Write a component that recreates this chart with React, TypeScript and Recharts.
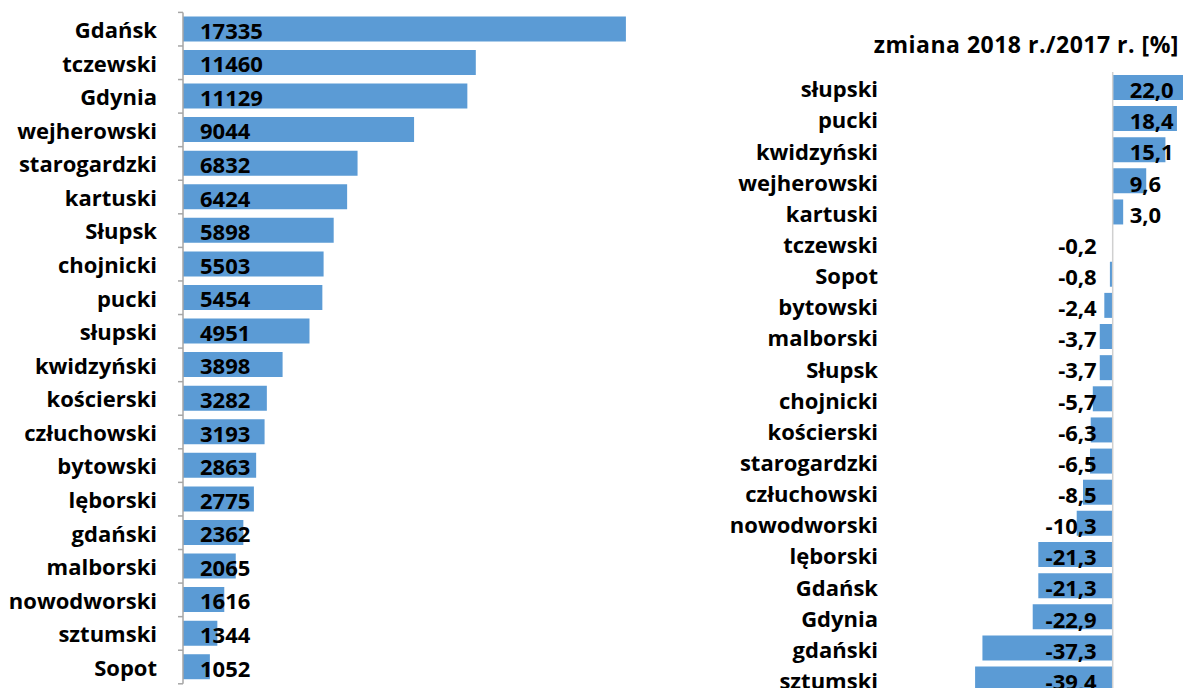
import React from "react";
import { BarChart, Bar, XAxis, YAxis, LabelList, ReferenceLine } from "recharts";

const leftCategories = ["Gdańsk","tczewski","Gdynia","wejherowski","starogardzki","kartuski","Słupsk","chojnicki","pucki","słupski","kwidzyński","kościerski","człuchowski","bytowski","lęborski","gdański","malborski","nowodworski","sztumski","Sopot"];
const leftValues = [17335,11460,11129,9044,6832,6424,5898,5503,5454,4951,3898,3282,3193,2863,2775,2362,2065,1616,1344,1052];

const rightCategories = ["słupski","pucki","kwidzyński","wejherowski","kartuski","tczewski","Sopot","bytowski","malborski","Słupsk","chojnicki","kościerski","starogardzki","człuchowski","nowodworski","lęborski","Gdańsk","Gdynia","gdański","sztumski"];
const rightValues = [22.0,18.4,15.1,9.6,3.0,-0.2,-0.8,-2.4,-3.7,-3.7,-5.7,-6.3,-6.5,-8.5,-10.3,-21.3,-21.3,-22.9,-37.3,-39.4];

const rightTitle = "zmiana 2018 r./2017 r. [%]";

const leftData = leftCategories.map((name, i) => ({ name, value: leftValues[i] }));
const rightData = rightCategories.map((name, i) => ({ name, value: rightValues[i] }));

const FONT = "'Open Sans', Lato, sans-serif";
const FS = 22;
const BAR = "#5b9bd5";

const LEFT_TOP = 12.4;
const LEFT_H = 671.4;
const LEFT_BAND = LEFT_H / leftCategories.length;

const LeftTick = (props: any) => {
  const { x, y, payload, index } = props;
  const ax = x + 26;
  const half = LEFT_BAND / 2;
  return (
    <g>
      <line x1={ax} x2={ax - 5} y1={y - half} y2={y - half} stroke="#a6a6a6" strokeWidth={1.5} />
      {index === leftCategories.length - 1 && (
        <line x1={ax} x2={ax - 5} y1={y + half} y2={y + half} stroke="#a6a6a6" strokeWidth={1.5} />
      )}
      <text x={x} y={y + 1} dy="0.355em" textAnchor="end" fontFamily={FONT} fontWeight={700} fontSize={FS} fill="#000">
        {payload.value}
      </text>
    </g>
  );
};

const RightTick = (props: any) => {
  const { x, y, payload } = props;
  return (
    <text x={x} y={y + 2} dy="0.355em" textAnchor="end" fontFamily={FONT} fontWeight={700} fontSize={FS} fill="#000">
      {payload.value}
    </text>
  );
};

const LeftLabel = (props: any) => {
  const { x, y, height, value } = props;
  return (
    <text x={x + 17} y={y + height / 2 + 2} dy="0.355em" textAnchor="start" fontFamily={FONT} fontWeight={700} fontSize={FS} fill="#000">
      {value}
    </text>
  );
};

const RightLabel = (props: any) => {
  const { x, y, width, height, value } = props;
  const lo = Math.min(x, x + width);
  const hi = Math.max(x, x + width);
  const zero = value >= 0 ? lo : hi;
  const txt = Number(value).toFixed(1).replace(".", ",");
  return (
    <text
      x={value >= 0 ? zero + 17 : zero - 16}
      y={y + height / 2 + 3}
      dy="0.355em"
      textAnchor={value >= 0 ? "start" : "end"}
      fontFamily={FONT}
      fontWeight={700}
      fontSize={FS}
      fill="#000"
    >
      {txt}
    </text>
  );
};

export default function App() {
  return (
    <div style={{ position: "absolute", left: 0, top: 0, width: 1183, height: 688, overflow: "hidden", background: "#fff" }}>
      <div style={{ position: "absolute", left: 0, top: 0 }}>
        <BarChart
          layout="vertical"
          width={700}
          height={688}
          data={leftData}
          margin={{ top: LEFT_TOP, bottom: 688 - LEFT_TOP - LEFT_H, left: 0, right: 6 }}
        >
          <XAxis type="number" domain={[0, 20000]} hide />
          <YAxis
            type="category"
            dataKey="name"
            width={183}
            tickSize={0}
            tickMargin={26}
            tickLine={false}
            axisLine={{ stroke: "#a6a6a6", strokeWidth: 1.5 }}
            tick={<LeftTick />}
            interval={0}
          />
          <Bar dataKey="value" fill={BAR} barSize={25} isAnimationActive={false}>
            <LabelList dataKey="value" content={<LeftLabel />} />
          </Bar>
        </BarChart>
      </div>
      <div
        style={{
          position: "absolute",
          right: 4,
          top: 29,
          fontFamily: FONT,
          fontWeight: 700,
          fontSize: 23,
          letterSpacing: "0.5px",
          color: "#000",
          whiteSpace: "nowrap",
          lineHeight: "30px",
        }}
      >
        {rightTitle}
      </div>
      <div style={{ position: "absolute", left: 700, top: 0 }}>
        <BarChart
          layout="vertical"
          width={500}
          height={720}
          data={rightData}
          margin={{ top: 71.9, bottom: 720 - 71.9 - 622.8, left: 0, right: 0 }}
        >
          <XAxis type="number" domain={[-40, 25]} hide allowDataOverflow />
          <YAxis
            type="category"
            dataKey="name"
            width={273}
            tickSize={0}
            tickMargin={95}
            tickLine={false}
            axisLine={false}
            tick={<RightTick />}
            interval={0}
          />
          <ReferenceLine x={0} stroke="#d0d0d0" strokeWidth={1.5} />
          <Bar dataKey="value" fill={BAR} barSize={25} isAnimationActive={false}>
            <LabelList dataKey="value" content={<RightLabel />} />
          </Bar>
        </BarChart>
      </div>
    </div>
  );
}
